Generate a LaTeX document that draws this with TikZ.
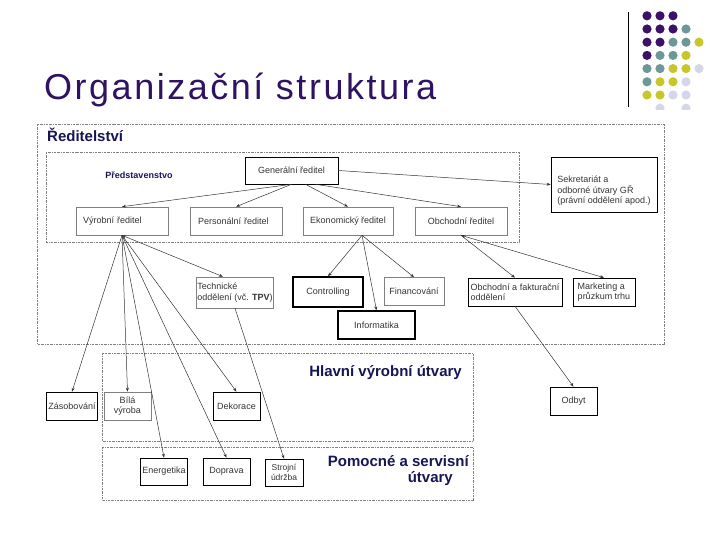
\documentclass[tikz,border=0pt]{standalone}
\usepackage{fontspec}
\setmainfont{Liberation Sans}
\newfontfamily\titlefont[LetterSpace=7]{Liberation Sans}
\usepackage{xcolor}
\usepackage{tikz}
\usetikzlibrary{arrows.meta}
\definecolor{titlepurple}{RGB}{47,19,99}
\definecolor{labelnavy}{RGB}{22,22,85}
\definecolor{dotpurple}{RGB}{60,18,104}
\definecolor{dotteal}{RGB}{108,152,152}
\definecolor{dotyellow}{RGB}{200,198,42}
\definecolor{dotlavender}{RGB}{214,214,234}
\newcommand{\boxfont}{\fontsize{9}{10.5}\selectfont}

\begin{document}
\begin{tikzpicture}[x=1pt, y=-1pt,
  unit/.style={draw=black, line width=0.6pt, text=black!80, font=\boxfont, inner sep=2pt, minimum height=28pt},
  greyunit/.style={unit, draw=gray},
  heavyunit/.style={unit, line width=1.3pt},
  group/.style={draw=gray, line width=0.5pt, dash pattern=on 2pt off 1pt on 0.5pt off 1pt},
  link/.style={draw=black!80, line width=0.5pt, -{Stealth[length=4pt,width=3pt]}},
  duallink/.style={link, {Stealth[length=4pt,width=3pt]}-{Stealth[length=4pt,width=3pt]}},
  grouplabel/.style={text=labelnavy, inner sep=0pt, font=\bfseries\fontsize{15}{16}\selectfont}]
\useasboundingbox (0,0) rectangle (720,540);

\node[anchor=base west, inner sep=0pt, text=titlepurple, font=\titlefont\fontsize{36}{40}\selectfont] (title) at (44,100) {Organizační struktura};
\draw[line width=1pt] (628,12) -- (628,107);
\begin{scope}
\clip (640,5) rectangle (710,110);
\foreach \row/\col/\shade in {1/1/dotpurple, 1/2/dotpurple, 1/3/dotpurple,
    2/1/dotpurple, 2/2/dotpurple, 2/3/dotpurple, 2/4/dotteal,
    3/1/dotpurple, 3/2/dotpurple, 3/3/dotteal, 3/4/dotteal, 3/5/dotyellow,
    4/1/dotpurple, 4/2/dotteal, 4/3/dotteal, 4/4/dotyellow,
    5/1/dotteal, 5/2/dotteal, 5/3/dotyellow, 5/4/dotyellow, 5/5/dotlavender,
    6/1/dotteal, 6/2/dotyellow, 6/3/dotyellow, 6/4/dotlavender,
    7/1/dotyellow, 7/2/dotyellow, 7/3/dotlavender, 7/4/dotlavender,
    8/2/dotlavender, 8/4/dotlavender}
  \fill[\shade] ({634+13*\col},{2.6+13.2*\row}) circle (4.6);
\end{scope}

\draw[group] (37,124) rectangle (664,344);
\draw[group] (46,152) rectangle (519,242);
\draw[group] (102,353) rectangle (473,441);
\draw[group] (102,447) rectangle (473,500);

\node[grouplabel, anchor=base west] (reditelstvi) at (47,142) {Ředitelství};
\node[text=labelnavy, font=\bfseries\fontsize{9}{10}\selectfont] (predst) at (139,175) {Představenstvo};
\node[grouplabel, anchor=base east] (hlavni) at (462,376) {Hlavní výrobní útvary};
\node[grouplabel, anchor=north east, align=right] (pomocne) at (469,455) {Pomocné a servisní\\útvary\rule{16pt}{0pt}};

\node[unit, minimum width=93pt, minimum height=27pt] (gen) at (291.5,170.5) {Generální ředitel};
\node[greyunit, text width=78pt, inner xsep=7pt, align=left] (vyr) at (122,221) {Výrobní ředitel};
\node[greyunit, text width=76pt, inner xsep=8pt, align=left] (pers) at (236,221) {Personální ředitel};
\node[greyunit, minimum width=90pt] (ekon) at (348,221) {Ekonomický ředitel};
\node[greyunit, minimum width=92pt] (obch) at (461,221) {Obchodní ředitel};
\node[unit, minimum width=106pt, minimum height=55pt, align=left] (sekr) at (604,184.5) {\rule{0pt}{19pt}Sekretariát a\\odborné útvary GŘ\\(právní oddělení apod.)};

\node[greyunit, minimum width=76pt, inner sep=1pt, minimum height=31pt, align=left] (tech) at (235,292.5) {Technické\\oddělení (vč. \textbf{TPV})};
\node[heavyunit, minimum width=70pt, minimum height=30pt] (contr) at (328,292) {Controlling};
\node[greyunit, minimum width=60pt] (fin) at (414,291.5) {Financování};
\node[heavyunit, minimum width=77pt] (info) at (376.5,325) {Informatika};
\node[unit, minimum width=94pt, align=left] (obfak) at (515,292) {Obchodní a fakturační\\oddělení};
\node[unit, minimum width=62pt, align=left] (mark) at (604,292) {Marketing a\\průzkum trhu};

\node[unit, minimum width=50pt] (zas) at (72,406) {Zásobování};
\node[greyunit, minimum width=47pt, align=center] (bila) at (127.5,406) {Bílá\\výroba};
\node[unit, minimum width=47pt] (dek) at (236.5,406) {Dekorace};
\node[unit, minimum width=46pt, minimum height=27pt] (ener) at (164,471.5) {Energetika};
\node[unit, minimum width=47pt, minimum height=27pt] (dop) at (226.5,471.5) {Doprava};
\node[unit, minimum width=38pt, minimum height=27pt, align=center, font=\fontsize{8.5}{9.5}\selectfont] (stroj) at (284,472.5) {Strojní\\údržba};
\node[unit, minimum width=47pt] (odbyt) at (573.5,401) {Odbyt};

\draw[link] (gen.south) -- (vyr.north);
\draw[link] (gen.south) -- (pers.north);
\draw[link] ([xshift=14pt]gen.south) -- (ekon.north);
\draw[link] ([xshift=24pt]gen.south) -- (obch.north);
\draw[link] (gen.east) -- (sekr.west);

\draw[link] (vyr.south) -- (zas.north);
\draw[link] (vyr.south) -- (bila.north);
\draw[link] (vyr.south) -- (ener.north);
\draw[link] (vyr.south) -- (dop.north);
\draw[link] (vyr.south) -- (dek.north);
\draw[duallink] (vyr.south) -- ([xshift=-12pt]tech.north);
\draw[link] (tech.south) -- (stroj.north);

\draw[link] ([xshift=14pt]ekon.south) -- (contr.north);
\draw[link] ([xshift=14pt]ekon.south) -- (fin.north);
\draw[link] ([xshift=14pt]ekon.south) -- (info.north);

\draw[duallink] (obch.south) -- (mark.north);
\draw[link] (obch.south) -- (obfak.north);
\draw[link] (obfak.south) -- (odbyt.north);
\end{tikzpicture}
\end{document}
